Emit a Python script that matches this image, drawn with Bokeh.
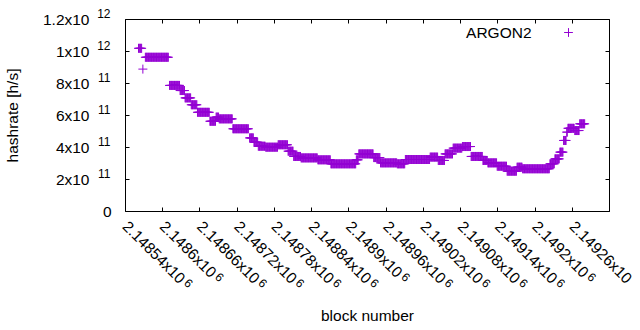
import math
from bokeh.plotting import figure
from bokeh.models import (Range1d, LinearAxis, FixedTicker, Label, Legend, LegendItem,
                          CustomJSTickFormatter)
from bokeh.embed import file_html
from bokeh.resources import INLINE

# ---- data: runs of (nearly) constant hashrate ----
run_start = [2148561, 2148568, 2148572, 2148611, 2148628, 2148636, 2148646, 2148656, 2148676, 2148686,
             2148691, 2148713, 2148740, 2148747, 2148754, 2148766, 2148786, 2148802, 2148811, 2148823,
             2148850, 2148871, 2148912, 2148916, 2148940, 2148951, 2148978, 2148991, 2149031, 2149044,
             2149055, 2149068, 2149083, 2149097, 2149116, 2149124, 2149139, 2149155, 2149171, 2149180,
             2149224, 2149232, 2149240, 2149246, 2149251, 2149253, 2149264, 2149272]
run_end = [2148566, 2148568, 2148609, 2148627, 2148635, 2148645, 2148655, 2148675, 2148685, 2148690,
           2148712, 2148738, 2148746, 2148753, 2148765, 2148785, 2148801, 2148810, 2148822, 2148849,
           2148870, 2148911, 2148915, 2148939, 2148950, 2148977, 2148990, 2149030, 2149043, 2149054,
           2149067, 2149082, 2149096, 2149115, 2149123, 2149138, 2149154, 2149170, 2149179, 2149223,
           2149231, 2149239, 2149245, 2149250, 2149252, 2149263, 2149271, 2149280]
run_hashrate_e11 = [10.2, 8.9, 9.64, 7.88, 7.56, 7.10, 6.67, 6.20, 5.64, 5.90,
                    5.79, 5.17, 4.60, 4.33, 4.08, 4.02, 4.17, 3.77, 3.44, 3.35,
                    3.23, 2.98, 3.23, 3.60, 3.37, 3.04, 2.98, 3.25, 3.40, 3.19,
                    3.60, 3.96, 4.06, 3.44, 3.19, 3.04, 2.83, 2.52, 2.77, 2.67,
                    2.98, 3.29, 3.71, 4.44, 4.96, 5.20, 5.06, 5.48]

x_ticks = [2148540, 2148600, 2148660, 2148720, 2148780, 2148840, 2148900,
           2148960, 2149020, 2149080, 2149140, 2149200, 2149260, 2149320]
x_tick_main = ["2.14854x10", "2.1486x10", "2.14866x10", "2.14872x10", "2.14878x10", "2.14884x10", "2.1489x10",
               "2.14896x10", "2.14902x10", "2.14908x10", "2.14914x10", "2.1492x10", "2.14926x10", "2.1493x10"]
x_tick_exp = ["6"] * 14

y_ticks = [0, 2e11, 4e11, 6e11, 8e11, 1e12, 1.2e12]
y_tick_main = ["0", "2x10", "4x10", "6x10", "8x10", "1x10", "1.2x10"]
y_tick_exp = ["", "11", "11", "11", "11", "12", "12"]

x_start, x_end = 2148540, 2149320
y_start, y_end = 0, 1.2e12

series_name = "ARGON2"
x_title = "block number"
y_title = "hashrate [h/s]"

# ---- expand runs to one point per block ----
bx, by = [], []
for s, e, v in zip(run_start, run_end, run_hashrate_e11):
    for b in range(s, e + 1):
        bx.append(b)
        by.append(v * 1e11)

FONT = "Liberation Sans"
FS, FS_PX = "15.5px", 15.5
SUP, SUP_PX = "12px", 12.0
PURPLE = "#9400d3"

# layout (canvas px)
W, H = 640, 330
FL, FR, FT, FB = 124, 609, 19, 211
frame_w, frame_h = FR - FL, FB - FT
px_per_x = frame_w / (x_end - x_start)

p = figure(width=W, height=H, output_backend="svg", toolbar_location=None,
           x_range=Range1d(x_start, x_end), y_range=Range1d(y_start, y_end),
           x_axis_type=None, y_axis_type=None,
           min_border_left=FL, min_border_right=W - FR, min_border_top=FT, min_border_bottom=H - FB)
p.grid.visible = False
p.outline_line_color = "black"
p.outline_line_width = 1
p.background_fill_color = "white"
p.border_fill_color = "white"


def fmt(vals, labels):
    return CustomJSTickFormatter(args=dict(vals=list(vals), labels=list(labels)), code="""
        for (let i = 0; i < vals.length; i++) {
            if (Math.abs(vals[i] - tick) <= 1e-6 * Math.max(1, Math.abs(tick))) return labels[i];
        }
        return '';
    """)


def mk_axis(side, ticks, labels=None, size="0px", standoff=0, ticks_visible=False,
            orient="horizontal", title=None, title_standoff=0, line_height=1.2):
    ticks = list(ticks)
    ax = LinearAxis(ticker=FixedTicker(ticks=ticks, minor_ticks=[]),
                    formatter=fmt(ticks, labels if labels else [""] * len(ticks)))
    ax.axis_line_color = None
    ax.major_tick_in = 4 if ticks_visible else 0
    ax.major_tick_out = 0
    ax.major_tick_line_color = "black" if ticks_visible else None
    ax.minor_tick_line_color = None
    ax.major_label_standoff = standoff
    ax.major_label_text_font = FONT
    ax.major_label_text_font_size = size
    ax.major_label_text_color = "black"
    ax.major_label_text_line_height = line_height
    ax.major_label_orientation = orient
    if title:
        ax.axis_label = title
        ax.axis_label_text_font = FONT
        ax.axis_label_text_font_size = FS
        ax.axis_label_text_font_style = "normal"
        ax.axis_label_text_color = "black"
        ax.axis_label_standoff = title_standoff
    p.add_layout(ax, side)
    return ax


def tw(s, fs):
    cw = {".": 0.278, "x": 0.5}
    return fs * sum(cw.get(c, 0.556) for c in s)


TH, TH_SUP = 1.117 * FS_PX, 1.117 * SUP_PX   # text box heights
s45 = math.sqrt(0.5)

# ---- tick marks on all four sides (inward) ----
mk_axis("below", x_ticks, ticks_visible=True)
mk_axis("above", x_ticks, ticks_visible=True)
mk_axis("left", y_ticks, ticks_visible=True)
mk_axis("right", y_ticks, ticks_visible=True)

# ---- left: "0", superscripts, mantissas (stacked outward) ----
pos = 0
zero_vals = [t for t, e in zip(y_ticks, y_tick_exp) if not e]
zero_labs = [m for m, e in zip(y_tick_main, y_tick_exp) if not e]
so = 14
mk_axis("left", zero_vals, zero_labs, FS, so)
pos += round(so + max(tw(m, FS_PX) for m in zero_labs))

# superscripts: a second (empty) line lifts the exponent above the tick
raise_px = 5
sup_vals = [t for t, e in zip(y_ticks, y_tick_exp) if e]
sup_labs = [e + "\n" for e in y_tick_exp if e]
so = 12 - pos
mk_axis("left", sup_vals, sup_labs, SUP, so, line_height=2 * raise_px / SUP_PX)
pos += round(so + max(tw(e, SUP_PX) for e in y_tick_exp))

man_vals = sup_vals
man_labs = [m for m, e in zip(y_tick_main, y_tick_exp) if e]
so = 30 - pos
lab_w = max(tw(m, FS_PX) for m in man_labs)
mk_axis("left", man_vals, man_labs, FS, so, title=y_title,
        title_standoff=round(104 - TH / 2 - (pos + so + lab_w)))

# ---- below: rotated labels with superscripts ----
ANG = -math.pi / 4
main_dy = 12          # left-middle anchor of the mantissa below the frame
groups = {}
for t, m, e in zip(x_ticks, x_tick_main, x_tick_exp):
    w = tw(m, FS_PX)
    dx = s45 * (w + 5.2)
    dy = main_dy + s45 * (w + 0.2)
    v = t + dx / px_per_x
    if v <= x_end:
        groups.setdefault(round(dy), []).append((v, e))

pos = 0
sup_ext = (tw("6", SUP_PX) + TH_SUP) * s45
for dy in sorted(groups):
    vals = [v for v, _ in groups[dy]]
    labs = [l for _, l in groups[dy]]
    so = dy - pos
    mk_axis("below", vals, labs, SUP, so, orient=ANG)
    pos += round(so + sup_ext)

# the label sitting on the right frame edge would be pushed back inside the canvas; leave it off
shown = [(t, m) for t, m in zip(x_ticks, x_tick_main) if t < x_end]
so = main_dy - pos
main_ext = (max(tw(m, FS_PX) for _, m in shown) + TH) * s45
mk_axis("below", [t for t, _ in shown], [m for _, m in shown], FS, so, orient=ANG,
        title=x_title, title_standoff=round(101 - TH / 2 - (pos + so + main_ext)))

r = p.scatter(bx, by, marker="cross", size=9, line_color=PURPLE, line_width=1)

# ---- key (gnuplot style: text then sample) ----
p.add_layout(Label(x=x_end, y=y_end, x_offset=-78, y_offset=-12.7, text=series_name,
                   text_align="right", text_baseline="middle", text_font=FONT,
                   text_font_size=FS, text_color="black"))
leg = Legend(items=[LegendItem(label=" ", renderers=[r])], location=(432, 168),
             padding=0, spacing=0, margin=0, glyph_width=22, glyph_height=22,
             label_height=22, label_width=1, label_standoff=0, label_text_font_size="1px",
             border_line_color=None, background_fill_alpha=0)
p.add_layout(leg)

open("out.html", "w").write(file_html(p, INLINE))
